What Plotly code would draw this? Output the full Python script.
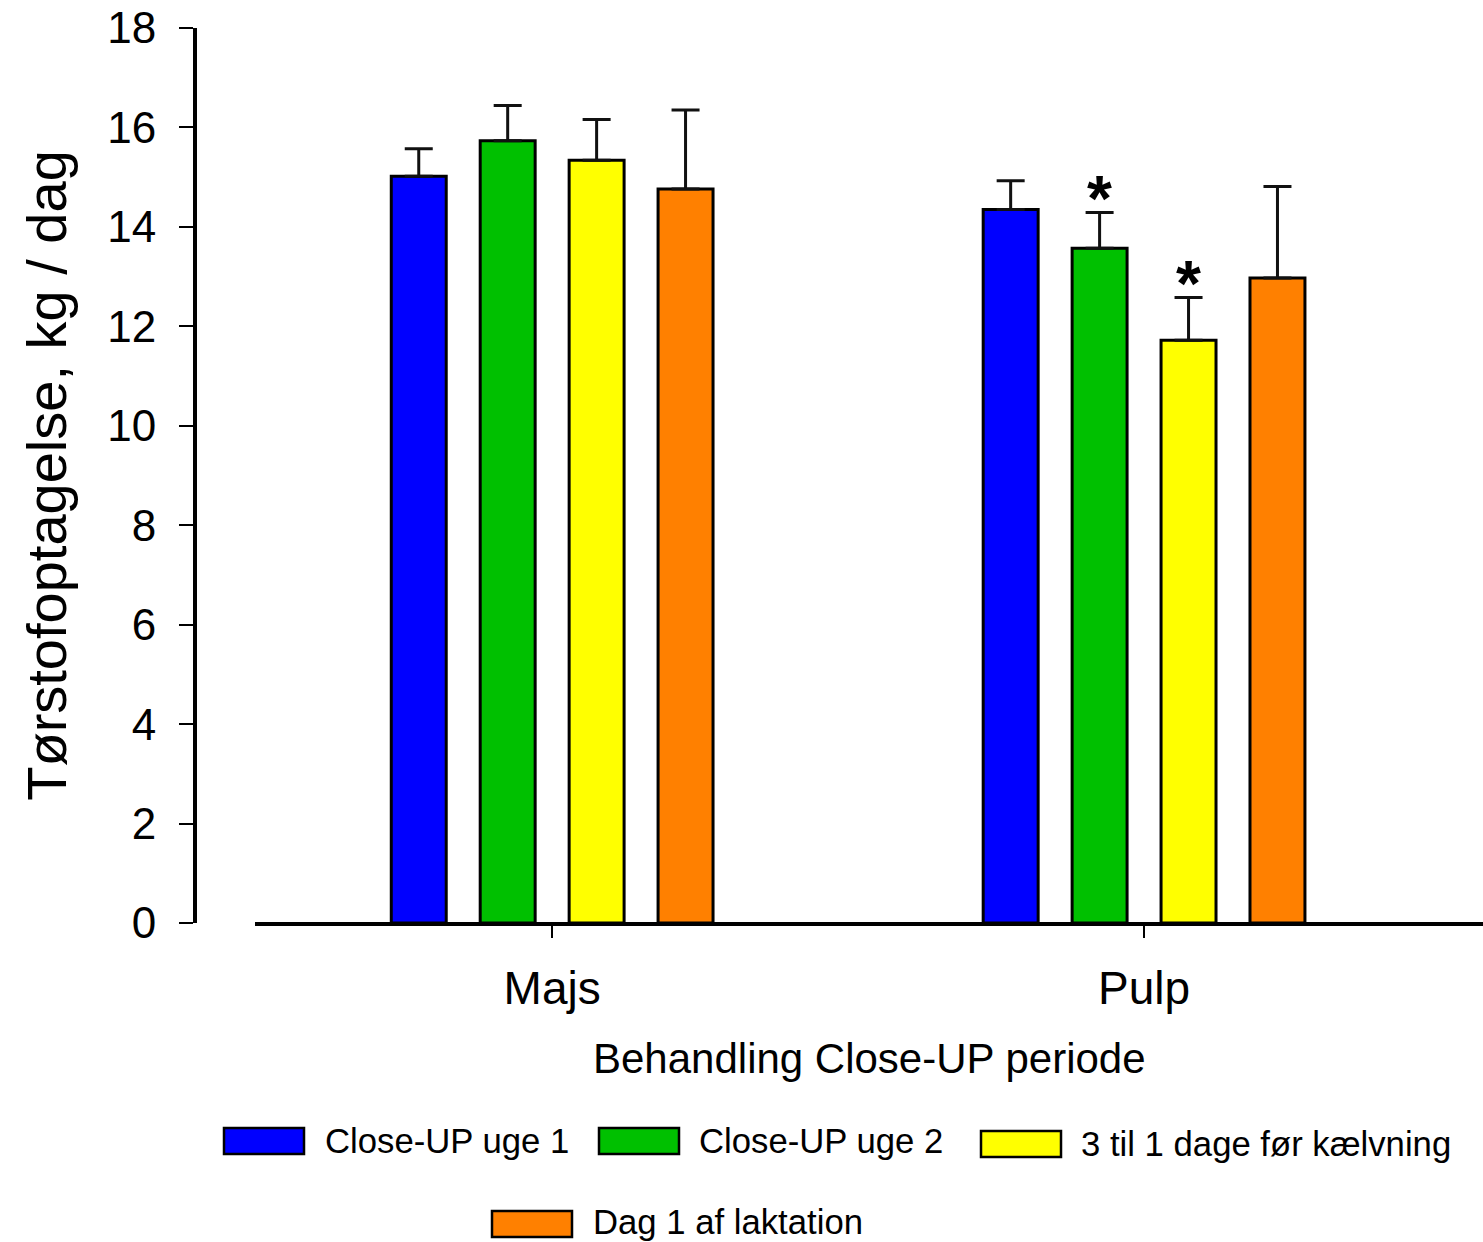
import plotly.graph_objects as go

# Dry matter intake per treatment group and period
groups = ["Majs", "Pulp"]
periods = ["Close-UP uge 1", "Close-UP uge 2", "3 til 1 dage før kælvning", "Dag 1 af laktation"]
colors = ["#0000FF", "#00C000", "#FFFF00", "#FF8000"]

uge1_mean = [15.02, 14.35]
uge2_mean = [15.73, 13.57]
dage3_mean = [15.34, 11.72]
dag1_mean = [14.76, 12.97]

uge1_se = [0.55, 0.58]
uge2_se = [0.71, 0.72]
dage3_se = [0.82, 0.86]
dag1_se = [1.59, 1.84]

# significance markers: (period index, group index)
signif = [(1, 1), (2, 1)]

y_ticks = [0, 2, 4, 6, 8, 10, 12, 14, 16, 18]

means = [uge1_mean, uge2_mean, dage3_mean, dag1_mean]
ses = [uge1_se, uge2_se, dage3_se, dag1_se]

W, H = 1483, 1242
ML, MR, MT, MB = 197, 0, 28, 319
BARGAP = 0.399
FONT = "Liberation Sans, Arial, sans-serif"

fig = go.Figure()
for name, col, m, s in zip(periods, colors, means, ses):
    fig.add_trace(go.Bar(
        x=groups, y=m, name=name,
        marker=dict(color=col, line=dict(color="#000000", width=3)),
        error_y=dict(type="data", array=s, arrayminus=[0] * len(s), symmetric=False,
                     color="#111111", thickness=3, width=14),
        showlegend=False,
    ))

# paper-coordinate helpers for items placed outside the axes
pw, ph = W - ML - MR, H - MT - MB
def px(x):
    return (x - ML) / pw
def py(y):
    return (H - MB - y) / ph

shapes = []
annotations = []

# baseline of the category axis, starting left of the first group
shapes.append(dict(type="line", xref="paper", yref="paper", x0=px(255), x1=1, y0=py(924), y1=py(924),
                   line=dict(color="#000000", width=4)))

# asterisks above the significant bars
slot = (1 - BARGAP) / len(periods)
for pi, gi in signif:
    xpos = gi + (pi - (len(periods) - 1) / 2) * slot
    annotations.append(dict(x=xpos, y=means[pi][gi] + ses[pi][gi], xref="x", yref="y",
                            text="<b>*</b>", showarrow=False, yanchor="bottom",
                            yshift=-25, font=dict(family=FONT, size=64, color="#000000")))

# x-axis title
annotations.append(dict(x=px(869), y=py(1058), xref="paper", yref="paper",
                        text="Behandling Close-UP periode", showarrow=False,
                        xanchor="center", yanchor="middle",
                        font=dict(family=FONT, size=42, color="#000000")))

# legend swatches and labels
legend_items = [
    (224, 1128, 324, 1141),
    (599, 1128, 698, 1141),
    (981, 1131, 1080, 1144),
    (492, 1211, 592, 1222),
]
for (sx, sy, tx, ty), name, col in zip(legend_items, periods, colors):
    shapes.append(dict(type="rect", xref="paper", yref="paper",
                       x0=px(sx), x1=px(sx + 80), y0=py(sy), y1=py(sy + 26),
                       fillcolor=col, line=dict(color="#000000", width=2.5)))
    annotations.append(dict(x=px(tx), y=py(ty), xref="paper", yref="paper",
                            text=name, showarrow=False, xanchor="left", yanchor="middle",
                            borderpad=0,
                            font=dict(family=FONT, size=34.7, color="#000000")))

fig.update_layout(
    width=W, height=H,
    margin=dict(l=ML, r=MR, t=MT, b=MB, pad=0),
    paper_bgcolor="white", plot_bgcolor="white",
    barmode="group", bargap=BARGAP, bargroupgap=0.382,
    font=dict(family=FONT, color="#000000"),
    shapes=shapes, annotations=annotations,
    xaxis=dict(range=[-0.6, 1.5726], showline=False, showgrid=False, zeroline=False,
               ticks="outside", ticklen=14, tickwidth=2, tickcolor="#000000",
               tickfont=dict(family=FONT, size=46), ticklabelstandoff=11),
    yaxis=dict(range=[0, 18], tickvals=y_ticks, showline=True, linewidth=4, linecolor="#000000",
               showgrid=False, zeroline=False, ticks="outside", ticklen=14, tickwidth=2,
               tickcolor="#000000", tickfont=dict(family=FONT, size=44), ticklabelstandoff=14,
               title=dict(text="Tørstofoptagelse, kg / dag", font=dict(family=FONT, size=56),
                          standoff=24)),
)

fig.write_html("out.html")
